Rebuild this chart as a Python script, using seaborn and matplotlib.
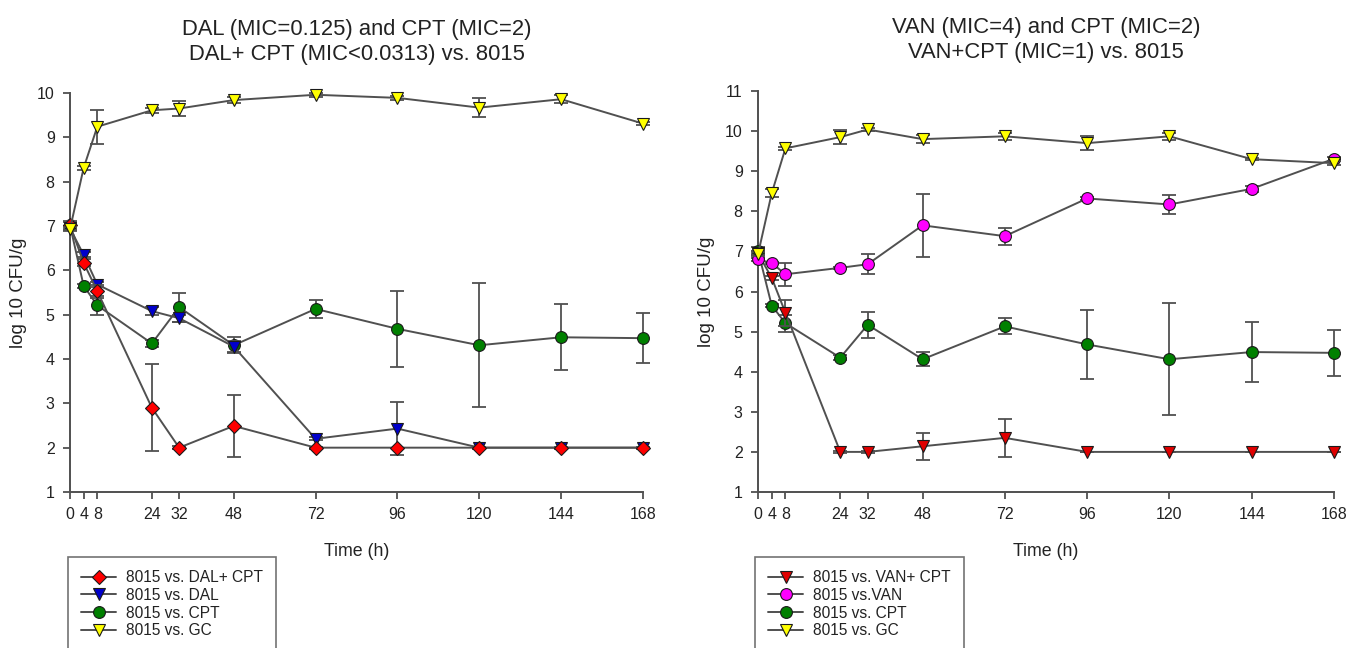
import matplotlib
matplotlib.use("Agg")
import matplotlib.pyplot as plt
import seaborn as sns

# Sampling times (h)
times = [0, 4, 8, 24, 32, 48, 72, 96, 120, 144, 168]

# Left panel: DAL / CPT combinations (log10 CFU/g, mean and error half-width)
dal_cpt = [7.02, 6.17, 5.53, 2.90, 2.00, 2.49, 2.00, 2.00, 2.00, 2.00, 2.00]
dal_cpt_err = [0.10, 0.08, 0.15, 0.98, 0.03, 0.69, 0.02, 0.00, 0.02, 0.02, 0.02]
dal = [6.95, 6.35, 5.68, 5.08, 4.92, 4.28, 2.20, 2.43, 2.00, 2.00, 2.00]
dal_err = [0.05, 0.06, 0.05, 0.09, 0.08, 0.12, 0.03, 0.60, 0.00, 0.00, 0.00]
gc_left = [6.93, 8.31, 9.24, 9.61, 9.65, 9.84, 9.96, 9.89, 9.67, 9.86, 9.31]
gc_left_err = [0.05, 0.05, 0.38, 0.05, 0.17, 0.06, 0.05, 0.05, 0.22, 0.09, 0.04]

# CPT alone (shared by both panels)
cpt = [7.02, 5.65, 5.21, 4.35, 5.17, 4.31, 5.13, 4.68, 4.31, 4.49, 4.47]
cpt_err = [0.08, 0.04, 0.21, 0.07, 0.33, 0.18, 0.20, 0.85, 1.40, 0.74, 0.57]

# Right panel: VAN / CPT combinations
van_cpt = [6.95, 6.34, 5.47, 2.00, 2.00, 2.14, 2.35, 2.00, 2.00, 2.00, 2.00]
van_cpt_err = [0.05, 0.05, 0.33, 0.02, 0.02, 0.34, 0.48, 0.00, 0.00, 0.00, 0.00]
van = [6.80, 6.71, 6.43, 6.59, 6.68, 7.65, 7.38, 8.32, 8.17, 8.56, 9.31]
van_err = [0.03, 0.03, 0.29, 0.03, 0.25, 0.78, 0.21, 0.03, 0.24, 0.07, 0.05]
gc_right = [6.93, 8.45, 9.57, 9.85, 10.04, 9.80, 9.87, 9.70, 9.87, 9.30, 9.20]
gc_right_err = [0.05, 0.10, 0.03, 0.18, 0.03, 0.10, 0.09, 0.18, 0.09, 0.03, 0.05]

left_title = "DAL (MIC=0.125) and CPT (MIC=2)\nDAL+ CPT (MIC<0.0313) vs. 8015"
right_title = "VAN (MIC=4) and CPT (MIC=2)\nVAN+CPT (MIC=1) vs. 8015"
y_label = "log 10 CFU/g"
x_label = "Time (h)"

sns.set_theme(style="ticks")
plt.rcParams["font.family"] = ["Liberation Sans", "DejaVu Sans"]

LINE = "#505050"
TEXT = "#222222"
W, H = 1349, 648
fig = plt.figure(figsize=(W / 100, H / 100), dpi=100)
ax1 = fig.add_axes([70 / W, 1 - 492 / H, (643 - 70) / W, (492 - 93) / H])
ax2 = fig.add_axes([758 / W, 1 - 492 / H, (1334 - 758) / W, (492 - 91) / H])


def draw_series(ax, y, err, marker, color, label, z, ms=8.5):
    ax.errorbar(times, y, yerr=err, fmt="none", ecolor=LINE, elinewidth=1.3,
                capsize=5, capthick=1.3, zorder=z, clip_on=False)
    sns.lineplot(x=times, y=y, ax=ax, color=LINE, linewidth=1.4, marker=marker,
                 markersize=ms, markerfacecolor=color, markeredgecolor="#1a1a1a",
                 markeredgewidth=0.8, label=label, zorder=z + 0.5, clip_on=False)


# Left panel
draw_series(ax1, dal_cpt, dal_cpt_err, "D", "#ff0000", "8015 vs. DAL+ CPT", 5, ms=7.5)
draw_series(ax1, dal, dal_err, "v", "#0000cc", "8015 vs. DAL", 4)
draw_series(ax1, cpt, cpt_err, "o", "#008000", "8015 vs. CPT", 3)
draw_series(ax1, gc_left, gc_left_err, "v", "#ffff00", "8015 vs. GC", 6)

# Right panel
draw_series(ax2, van_cpt, van_cpt_err, "v", "#e00000", "8015 vs. VAN+ CPT", 4)
draw_series(ax2, van, van_err, "o", "#ff00ff", "8015 vs.VAN", 5)
draw_series(ax2, cpt, cpt_err, "o", "#008000", "8015 vs. CPT", 3)
draw_series(ax2, gc_right, gc_right_err, "v", "#ffff00", "8015 vs. GC", 6)

for ax, ymax, title, lx, ly in [(ax1, 10, left_title, 68, 557),
                                (ax2, 11, right_title, 755, 557)]:
    ax.set_xlim(0, 168)
    ax.set_ylim(1, ymax)
    ax.set_xticks(times)
    ax.set_yticks(range(1, ymax + 1))
    ax.tick_params(axis="both", direction="out", length=5, width=1.3,
                   color=LINE, labelsize=11.5, labelcolor=TEXT, pad=6)
    for side in ("top", "right"):
        ax.spines[side].set_visible(False)
    for side in ("left", "bottom"):
        ax.spines[side].set_color(LINE)
        ax.spines[side].set_linewidth(1.4)
    ax.set_title(title, fontsize=15.8, color=TEXT, pad=24, linespacing=1.25)
    ax.set_ylabel(y_label, fontsize=13.5, color=TEXT, labelpad=7)
    ax.set_xlabel(x_label, fontsize=12.8, color=TEXT, labelpad=15)
    leg = ax.legend(loc="upper left", bbox_to_anchor=(lx / W, 1 - ly / H),
                    bbox_transform=fig.transFigure, frameon=True, fancybox=False,
                    edgecolor=LINE, fontsize=11.2, handlelength=2.25,
                    handletextpad=0.64, labelspacing=0.17, borderpad=0.85,
                    borderaxespad=0)
    leg.get_frame().set_linewidth(1.2)
    for t in leg.get_texts():
        t.set_color(TEXT)

fig.savefig("out.png", dpi=100, facecolor="white")
